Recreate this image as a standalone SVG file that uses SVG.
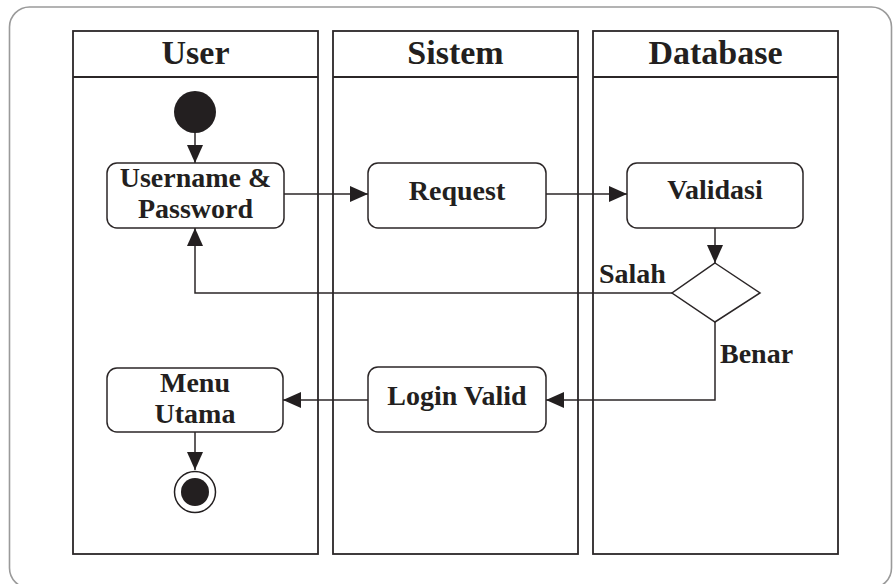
<svg xmlns="http://www.w3.org/2000/svg" width="893" height="584" viewBox="0 0 893 584">
  <style>
    .frame { fill: #ffffff; stroke: #9a9a9a; stroke-width: 1.6; }
    .lane { fill: none; stroke: #2b2627; stroke-width: 1.8; }
    .head { font-family: "Liberation Serif", "Times New Roman", serif; font-weight: bold; font-size: 34px; fill: #231f20; text-anchor: middle; }
    .act { fill: #ffffff; stroke: #2b2627; stroke-width: 1.5; }
    .txt { font-family: "Liberation Serif", "Times New Roman", serif; font-weight: bold; font-size: 28px; fill: #231f20; text-anchor: middle; }
    .lbl { font-family: "Liberation Serif", "Times New Roman", serif; font-weight: bold; font-size: 28px; fill: #231f20; }
    .flow { fill: none; stroke: #2b2627; stroke-width: 1.5; }
    .dot { fill: #231f20; }
  </style>
  <defs>
    <marker id="arrow" viewBox="0 0 18 16" refX="18" refY="8" markerWidth="18" markerHeight="16" markerUnits="userSpaceOnUse" orient="auto">
      <path d="M0,0 L18,8 L0,16 Z" fill="#231f20"/>
    </marker>
  </defs>

  <!-- outer frame -->
  <rect class="frame" x="9.5" y="7" width="882" height="581" rx="20" ry="20"/>

  <!-- swimlanes -->
  <g id="lane-user">
    <rect class="lane" x="73" y="31" width="245" height="523"/>
    <line class="lane" x1="73" y1="77" x2="318" y2="77"/>
    <text class="head" x="195.5" y="63.5">User</text>
  </g>
  <g id="lane-sistem">
    <rect class="lane" x="333" y="31" width="245" height="523"/>
    <line class="lane" x1="333" y1="77" x2="578" y2="77"/>
    <text class="head" x="455.5" y="63.5">Sistem</text>
  </g>
  <g id="lane-database">
    <rect class="lane" x="593" y="31" width="245" height="523"/>
    <line class="lane" x1="593" y1="77" x2="838" y2="77"/>
    <text class="head" x="715.5" y="63.5">Database</text>
  </g>

  <!-- connectors -->
  <g id="connectors">
    <path class="flow" d="M195,133 L195,163" marker-end="url(#arrow)"/>
    <path class="flow" d="M284,194 L368,194" marker-end="url(#arrow)"/>
    <path class="flow" d="M546,194 L627,194" marker-end="url(#arrow)"/>
    <path class="flow" d="M715,228 L715,263" marker-end="url(#arrow)"/>
    <path class="flow" d="M672,293 L195,293 L195,228" marker-end="url(#arrow)"/>
    <path class="flow" d="M715,322 L715,400 L546,400" marker-end="url(#arrow)"/>
    <path class="flow" d="M368,400 L283,400" marker-end="url(#arrow)"/>
    <path class="flow" d="M195,432 L195,470" marker-end="url(#arrow)"/>
    <text class="lbl" x="599" y="283">Salah</text>
    <text class="lbl" x="720" y="363">Benar</text>
  </g>

  <!-- nodes -->
  <g id="start">
    <circle class="dot" cx="195" cy="112" r="21"/>
  </g>
  <g id="username-password">
    <rect class="act" x="107" y="163" width="177" height="65" rx="10"/>
    <text class="txt" x="195.5" y="187">Username &amp;</text>
    <text class="txt" x="195.5" y="218">Password</text>
  </g>
  <g id="request">
    <rect class="act" x="368" y="163" width="178" height="65" rx="10"/>
    <text class="txt" x="457" y="200">Request</text>
  </g>
  <g id="validasi">
    <rect class="act" x="627" y="163" width="176" height="65" rx="10"/>
    <text class="txt" x="715" y="199">Validasi</text>
  </g>
  <g id="decision">
    <polygon class="act" points="715,263 760,293 715,322 672,293"/>
  </g>
  <g id="login-valid">
    <rect class="act" x="368" y="367" width="178" height="65" rx="10"/>
    <text class="txt" x="457" y="405">Login Valid</text>
  </g>
  <g id="menu-utama">
    <rect class="act" x="107" y="368" width="176" height="64" rx="10"/>
    <text class="txt" x="195" y="392">Menu</text>
    <text class="txt" x="195" y="423">Utama</text>
  </g>
  <g id="end">
    <circle cx="195" cy="492" r="20.5" fill="#ffffff" stroke="#231f20" stroke-width="1.5"/>
    <circle class="dot" cx="195" cy="492" r="14"/>
  </g>
</svg>
